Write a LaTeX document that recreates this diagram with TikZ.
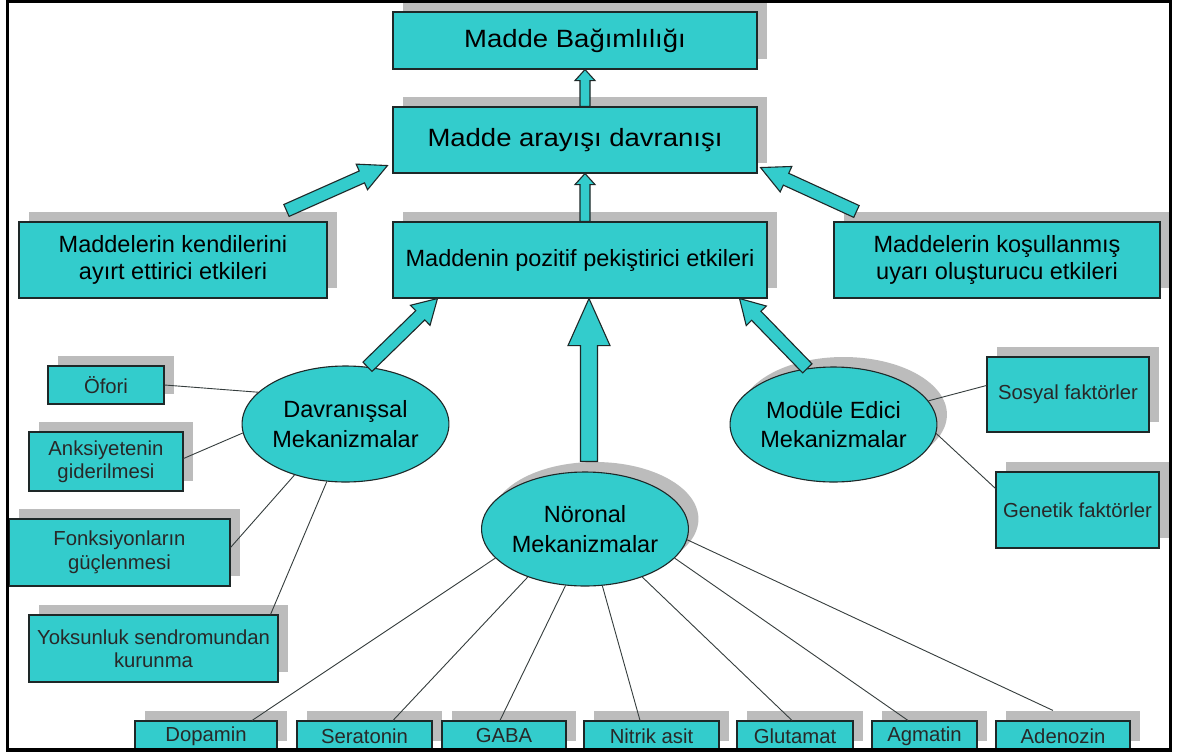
\documentclass[tikz,border=0pt]{standalone}
\usepackage{fontspec}
\setmainfont{Liberation Sans}
\newfontfamily\bigsans[FakeStretch=1.1]{Liberation Sans}
\usetikzlibrary{calc,shapes.geometric,shadows}
\definecolor{turq}{RGB}{51,204,204}
\definecolor{shade}{RGB}{188,188,188}
\definecolor{edge}{RGB}{30,40,40}
\definecolor{smalltext}{RGB}{40,40,40}
\newcommand{\txtbig}{\bigsans\fontsize{25}{30}\selectfont}
\newcommand{\txtmid}{\fontsize{23.5}{26.5}\selectfont}
\newcommand{\txtell}{\fontsize{23.5}{29.5}\selectfont}
\newcommand{\txtsmall}{\fontsize{20.3}{23.5}\selectfont}
\newcommand{\blockarrow}[5]{%
  \coordinate (ba-h) at ($(#2)!#5pt!(#1)$);
  \draw[arrowshape] ($(#1)!#3pt!90:(#2)$) -- ($(ba-h)!#3pt!-90:(#1)$) -- ($(ba-h)!#4pt!-90:(#1)$) -- (#2)
    -- ($(ba-h)!#4pt!90:(#1)$) -- ($(ba-h)!#3pt!90:(#1)$) -- ($(#1)!#3pt!-90:(#2)$) -- cycle;}
\begin{document}
\begin{tikzpicture}[x=1pt,y=-1pt,
  box/.style={draw=edge, fill=turq, line width=1.1pt, inner sep=0pt, align=center, text=black},
  shad/.style={drop shadow={shadow xshift=10pt, shadow yshift=10pt, fill=shade, opacity=1}},
  ellbox/.style={ellipse, draw=edge, fill=turq, line width=1.1pt, inner sep=0pt, align=center, text=black, font=\txtell},
  smallbox/.style={box, shad, font=\txtsmall, text=smalltext},
  thinline/.style={draw=edge!90, line width=0.9pt},
  arrowshape/.style={draw=edge, fill=turq, line width=1.1pt, line join=miter}]
\useasboundingbox (0,0) rectangle (1181,753);
\fill[white] (0,0) rectangle (1181,753);

% main boxes
\node[box, shad, font=\txtbig, minimum width=364, minimum height=57] (b1) at (575,40.5) {Madde Bağımlılığı};
\node[box, shad, font=\txtbig, minimum width=364, minimum height=66] (b2) at (575,140) {Madde arayışı davranışı};
\node[box, shad, font=\txtmid, minimum width=374, minimum height=76] (b3) at (580,260) {Maddenin pozitif pekiştirici etkileri};
\node[box, shad, font=\txtmid, minimum width=308, minimum height=76] (lbox) at (173,260) {Maddelerin kendilerini\\ayırt ettirici etkileri};
\node[box, shad, font=\txtmid, minimum width=326, minimum height=76] (rbox) at (997,260) {Maddelerin koşullanmış\\uyarı oluşturucu etkileri};

% ellipses
\node[ellbox, minimum width=193, minimum height=116] (dav) at (345.5,424) {Davranışsal\\Mekanizmalar};
\node[ellbox, shad, minimum width=193, minimum height=115] (mod) at (833.5,424.5) {Modüle Edici\\Mekanizmalar};
\node[ellbox, shad, minimum width=194, minimum height=114] (neu) at (585,529) {Nöronal\\Mekanizmalar};

% small boxes left
\node[smallbox, minimum width=116, minimum height=38] (ofori) at (106,385) {Öfori};
\node[smallbox, minimum width=154, minimum height=59] (anks) at (106,461.5) {Anksiyetenin\\giderilmesi};
\node[smallbox, minimum width=221, minimum height=67] (fonk) at (119.5,552.5) {Fonksiyonların\\güçlenmesi};
\node[smallbox, minimum width=249, minimum height=67] (yok) at (153.5,648.5) {Yoksunluk sendromundan\\kurunma};

% small boxes right
\node[smallbox, minimum width=162, minimum height=75] (sos) at (1068,394.5) {Sosyal faktörler};
\node[smallbox, minimum width=163, minimum height=76] (gen) at (1077.5,510) {Genetik faktörler};

% bottom boxes
\node[smallbox, minimum width=142, minimum height=30] (dop) at (206,736) {Dopamin};
\node[smallbox, minimum width=135, minimum height=30] (ser) at (364.5,736) {Seratonin};
\node[smallbox, minimum width=124, minimum height=30] (gaba) at (504,736) {GABA};
\node[smallbox, minimum width=135, minimum height=30] (nit) at (651.5,736) {Nitrik asit};
\node[smallbox, minimum width=116, minimum height=30] (glu) at (795,736) {Glutamat};
\node[smallbox, minimum width=105, minimum height=30] (agm) at (924.5,736) {Agmatin};
\node[smallbox, minimum width=134, minimum height=30] (ade) at (1063,736) {Adenozin};

% thin connectors
\draw[thinline] (ofori.east) -- (dav.160);
\draw[thinline] ($(anks.east)+(0,-3)$) -- (dav.185);
\draw[thinline] ($(fonk.east)+(0,-5)$) -- (dav.225);
\draw[thinline] ($(yok.north east)+(-8,0)$) -- (dav.252);
\draw[thinline] ($(sos.west)+(0,-9)$) -- (mod.14);
\draw[thinline] ($(gen.north west)+(0,17)$) -- (mod.355);
\draw[thinline] (neu.198) -- ($(dop.north)+(46,0)$);
\draw[thinline] (neu.220) -- ($(ser.north)+(28.5,0)$);
\draw[thinline] (neu.251) -- ($(gaba.north)+(-4,0)$);
\draw[thinline] (neu.287) -- ($(nit.north)+(-11.5,0)$);
\draw[thinline] (neu.320) -- ($(glu.north)+(-3,0)$);
\draw[thinline] (neu.342) -- ($(agm.north)+(-16.5,0)$);
\draw[thinline] (neu.354) -- ($(ade.north)+(-10,-10)$);

% block arrows
\coordinate (a1t) at ($(b2.north)+(10,0)$);
\coordinate (a1h) at ($(b1.south)+(10,0)$);
\blockarrow{a1t}{a1h}{5}{10}{11}
\coordinate (a2t) at ($(b3.north)+(5,0)$);
\coordinate (a2h) at ($(b2.south)+(10,0)$);
\blockarrow{a2t}{a2h}{5}{10}{11}
\coordinate (a3t) at ($(lbox.north west)+(268,-11)$);
\coordinate (a3h) at ($(b2.south west)+(-5,-8)$);
\blockarrow{a3t}{a3h}{6.5}{14}{28}
\coordinate (a4t) at ($(rbox.north west)+(23,-10)$);
\coordinate (a4h) at ($(b2.south east)+(3,-6)$);
\blockarrow{a4t}{a4h}{6.5}{14}{28}
\coordinate (a5t) at (dav.69);
\coordinate (a5h) at ($(b3.south west)+(45,0)$);
\blockarrow{a5t}{a5h}{6.5}{14}{24}
\coordinate (a6t) at (mod.115);
\coordinate (a6h) at ($(b3.south east)+(-28,0)$);
\blockarrow{a6t}{a6h}{6.5}{14}{24}
\coordinate (a7t) at ($(neu.north)+(4,-10)$);
\coordinate (a7h) at ($(b3.south)+(9,0)$);
\blockarrow{a7t}{a7h}{8.5}{21}{47}

% frame
\draw[black, line width=3.5pt] (7.5,1) rectangle (1170.5,750);
\end{tikzpicture}
\end{document}
